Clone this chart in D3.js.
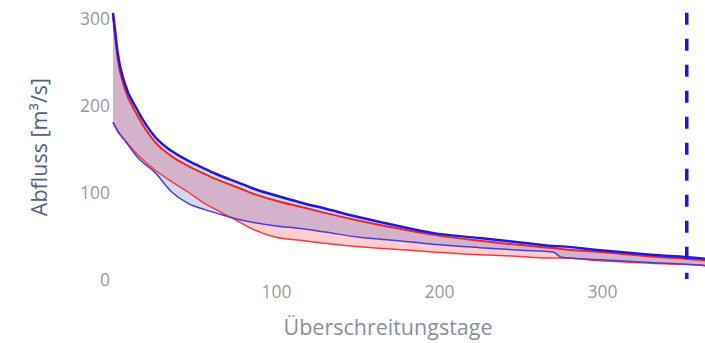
<!DOCTYPE html>
<html>
<head>
<meta charset="utf-8">
<script src="https://cdn.jsdelivr.net/npm/d3@7"></script>
<style>
  html, body { margin: 0; padding: 0; background: #fff; }
  svg { display: block; }
  text { font-family: "Open Sans", "Noto Sans", sans-serif; }
</style>
</head>
<body>
<svg id="chart" width="705" height="343"></svg>
<script>
// Flow duration curves: exceedance days vs discharge
const days     = [0, 1, 3, 7, 15, 26, 36, 46, 56, 63, 78, 86, 100, 115, 130, 151, 175, 196, 225, 250, 270, 275, 299, 330, 360, 365];
const blueMax  = [306, 290, 258, 226, 194, 163, 147, 136, 127, 121, 110, 104, 96, 88, 81, 71, 61, 53, 47, 42, 38, 37.5, 33, 28, 24, 23];
const redMax   = [302, 285, 252, 220, 188, 157, 141, 130, 121, 115, 104, 98, 90, 83, 76, 67, 58, 51, 44, 39, 35.5, 34.5, 31, 26, 22, 21];
const blueMin  = [180, 177, 170, 160, 140, 122, 100, 87, 80, 76, 68, 65, 61, 58, 54, 48, 44, 40, 36, 33, 31, 25, 22, 19, 16, 15];
const redMin   = [180, 176, 169, 160, 143, 125, 112, 100, 87, 80, 65, 57, 48, 44.5, 41, 37, 34, 31, 28, 26, 24, 24, 21, 18, 16, 15];
const markerDay = 352;
const yTicks = [0, 100, 200, 300];
const xTicks = [100, 200, 300];

const svg = d3.select("#chart");
const x = d3.scaleLinear().domain([0, 365]).range([113, 113 + 1.63 * 365]);
const y = d3.scaleLinear().domain([0, 300]).range([279, 18]);

svg.append("clipPath").attr("id", "plot").append("rect")
  .attr("x", 100).attr("y", 0).attr("width", 605).attr("height", 290);

const g = svg.append("g").attr("clip-path", "url(#plot)");
const curve = d3.curveMonotoneX;

function band(lo, hi) {
  return d3.area().curve(curve)
    .x((d, i) => x(days[i]))
    .y0((d, i) => y(lo[i]))
    .y1((d, i) => y(hi[i]))(days);
}
function line(vals) {
  return d3.line().curve(curve).x((d, i) => x(days[i])).y((d, i) => y(vals[i]))(days);
}

g.append("path").attr("d", band(redMin, redMax)).attr("fill", "rgba(255,60,60,0.25)");
g.append("path").attr("d", band(blueMin, blueMax)).attr("fill", "rgba(60,80,200,0.22)");

g.append("path").attr("d", line(redMin)).attr("fill", "none").attr("stroke", "rgb(240,60,60)").attr("stroke-width", 1.5);
g.append("path").attr("d", line(blueMin)).attr("fill", "none").attr("stroke", "rgb(80,60,210)").attr("stroke-width", 1.5);
g.append("path").attr("d", line(redMax)).attr("fill", "none").attr("stroke", "rgb(230,40,40)").attr("stroke-width", 2);
g.append("path").attr("d", line(blueMax)).attr("fill", "none").attr("stroke", "rgb(40,20,220)").attr("stroke-width", 2.5);

// Reference day marker
svg.append("line")
  .attr("x1", x(markerDay)).attr("x2", x(markerDay))
  .attr("y1", y(306)).attr("y2", 279)
  .attr("stroke", "rgb(30,20,230)").attr("stroke-width", 3.5)
  .attr("stroke-dasharray", "12,14");

// Axes (labels only)
const yAxis = d3.axisLeft(y).tickValues(yTicks).tickSize(0).tickPadding(0);
const ya = svg.append("g").attr("transform", "translate(110,0)").call(yAxis);
ya.select(".domain").remove();
ya.selectAll("text").attr("fill", "#9a9a9a").style("font-size", "17.5px").attr("dy", "0.35em");

const xAxis = d3.axisBottom(x).tickValues(xTicks).tickSize(0).tickPadding(0);
const xa = svg.append("g").attr("transform", "translate(0,285)").call(xAxis);
xa.select(".domain").remove();
xa.selectAll("text").attr("fill", "#9a9a9a").style("font-size", "17.5px").attr("dy", "0.75em");

svg.append("text")
  .attr("x", 388).attr("y", 335)
  .attr("text-anchor", "middle")
  .attr("fill", "#8a8f9c")
  .style("font-size", "21.5px")
  .text("Überschreitungstage");

svg.append("text")
  .attr("transform", "translate(47,147) rotate(-90)")
  .attr("text-anchor", "middle")
  .attr("fill", "#55607a")
  .style("font-size", "21.5px")
  .text("Abfluss [m³/s]");
</script>
</body>
</html>
